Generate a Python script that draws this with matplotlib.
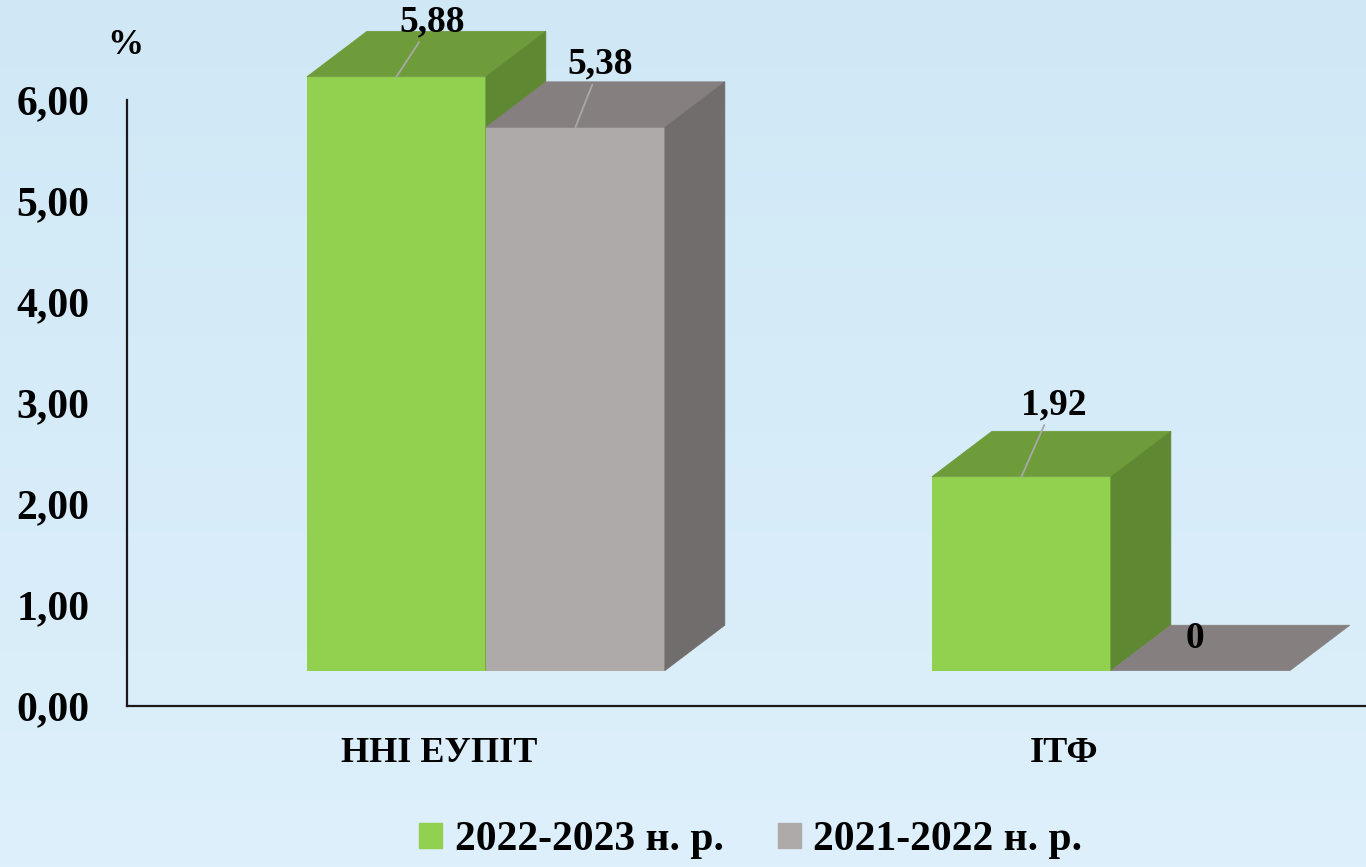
import numpy as np
import matplotlib
matplotlib.use("Agg")
import matplotlib.pyplot as plt
from matplotlib.patches import Polygon, Rectangle

# data
categories = ["ННІ ЕУПІТ", "ІТФ"]
series_names = ["2022-2023 н. р.", "2021-2022 н. р."]
values_2023 = [5.88, 1.92]
values_2022 = [5.38, 0.0]
value_labels_2023 = ["5,88", "1,92"]
value_labels_2022 = ["5,38", "0"]
y_ticks = [0, 1, 2, 3, 4, 5, 6]
y_tick_labels = ["0,00", "1,00", "2,00", "3,00", "4,00", "5,00", "6,00"]

# colours: front, top, side
greens = ("#92D050", "#6F9C3B", "#5E8832")
greys = ("#AEAAAA", "#85807F", "#716D6D")

# label offsets (pixels) from the top-front edge of each bar
offs_2023 = [(36, 55), (32, 72)]
offs_2022 = [(25, 63), (-5, 32)]

plt.rcParams["font.family"] = ["Liberation Serif", "DejaVu Serif"]
plt.rcParams["font.weight"] = "bold"

W, H = 1366, 867
fig = plt.figure(figsize=(W / 100, H / 100), dpi=100)

# soft blue background
bg = fig.add_axes([0, 0, 1, 1], zorder=-5)
grad = np.linspace(0, 1, 256)[:, None]
c0 = np.array([0xD0, 0xE8, 0xF6]) / 255
c1 = np.array([0xDD, 0xF0, 0xFB]) / 255
img = c0[None, None, :] * (1 - grad[..., None]) + c1[None, None, :] * grad[..., None]
bg.imshow(np.repeat(img, 4, axis=1), aspect="auto", extent=[0, 1, 0, 1])
bg.axis("off")

ax = fig.add_axes([127 / W, (H - 706) / H, 1 - 127 / W, 606 / H])
ax.patch.set_alpha(0)
ax.set_xlim(-0.499, 1.4834)
ax.set_ylim(0, 6)

bar_w = 0.2864       # front face width
depth_x = 0.096      # 3d depth shift in x
depth_y = 0.45       # 3d depth shift in y
floor = 0.35         # front floor level
x = np.arange(len(categories))


def draw_bar(xl, val, cols):
    front, top, side = cols
    y0, y1 = floor, floor + val
    ax.bar(xl, val, width=bar_w, bottom=y0, align="edge", color=front,
           clip_on=False, zorder=3)
    ax.add_patch(Polygon([(xl, y1), (xl + bar_w, y1),
                          (xl + bar_w + depth_x, y1 + depth_y),
                          (xl + depth_x, y1 + depth_y)],
                         closed=True, facecolor=top, edgecolor=top,
                         lw=0.5, clip_on=False, zorder=3))
    if val > 0:
        ax.add_patch(Polygon([(xl + bar_w, y0), (xl + bar_w, y1),
                              (xl + bar_w + depth_x, y1 + depth_y),
                              (xl + bar_w + depth_x, y0 + depth_y)],
                             closed=True, facecolor=side, edgecolor=side,
                             lw=0.5, clip_on=False, zorder=3))


def label_bar(xl, val, text, off):
    xc = xl + bar_w / 2
    arrow = None
    if val > 0:
        arrow = dict(arrowstyle="-", color="#A8A8A8", lw=1.3,
                     shrinkA=0, shrinkB=0)
    ax.annotate(text, xy=(xc, floor + val), xytext=off,
                textcoords="offset pixels", ha="center", va="center",
                fontsize=27, fontweight="bold", annotation_clip=False,
                arrowprops=arrow, zorder=5)


left0 = x - 0.2112
left1 = left0 + bar_w
for i in range(len(categories)):
    draw_bar(left0[i], values_2023[i], greens)
    draw_bar(left1[i], values_2022[i], greys)
for i in range(len(categories)):
    label_bar(left0[i], values_2023[i], value_labels_2023[i], offs_2023[i])
    label_bar(left1[i], values_2022[i], value_labels_2022[i], offs_2022[i])

for s in ["top", "right"]:
    ax.spines[s].set_visible(False)
for s in ["left", "bottom"]:
    ax.spines[s].set_linewidth(1.6)
    ax.spines[s].set_color("#1A1A1A")

ax.set_yticks(y_ticks)
ax.set_yticklabels(y_tick_labels, fontsize=30, fontweight="bold")
ax.tick_params(axis="y", length=0, pad=27)
ax.set_xticks(x)
ax.set_xticklabels(categories, fontsize=26, fontweight="bold")
ax.tick_params(axis="x", length=0, pad=22)

fig.text(125 / W, 1 - 45 / H, "%", ha="center", va="center",
         fontsize=26, fontweight="bold")

handles = [Rectangle((0, 0), 1, 1, color=greens[0]),
           Rectangle((0, 0), 1, 1, color=greys[0])]
fig.legend(handles, series_names, loc="center",
           bbox_to_anchor=(751 / W, 1 - 840 / H), ncol=2, frameon=False,
           prop={"size": 30, "weight": "bold"}, handlelength=0.55,
           handleheight=0.55, handletextpad=0.3, columnspacing=1.3)

fig.savefig("out.png", dpi=100)
